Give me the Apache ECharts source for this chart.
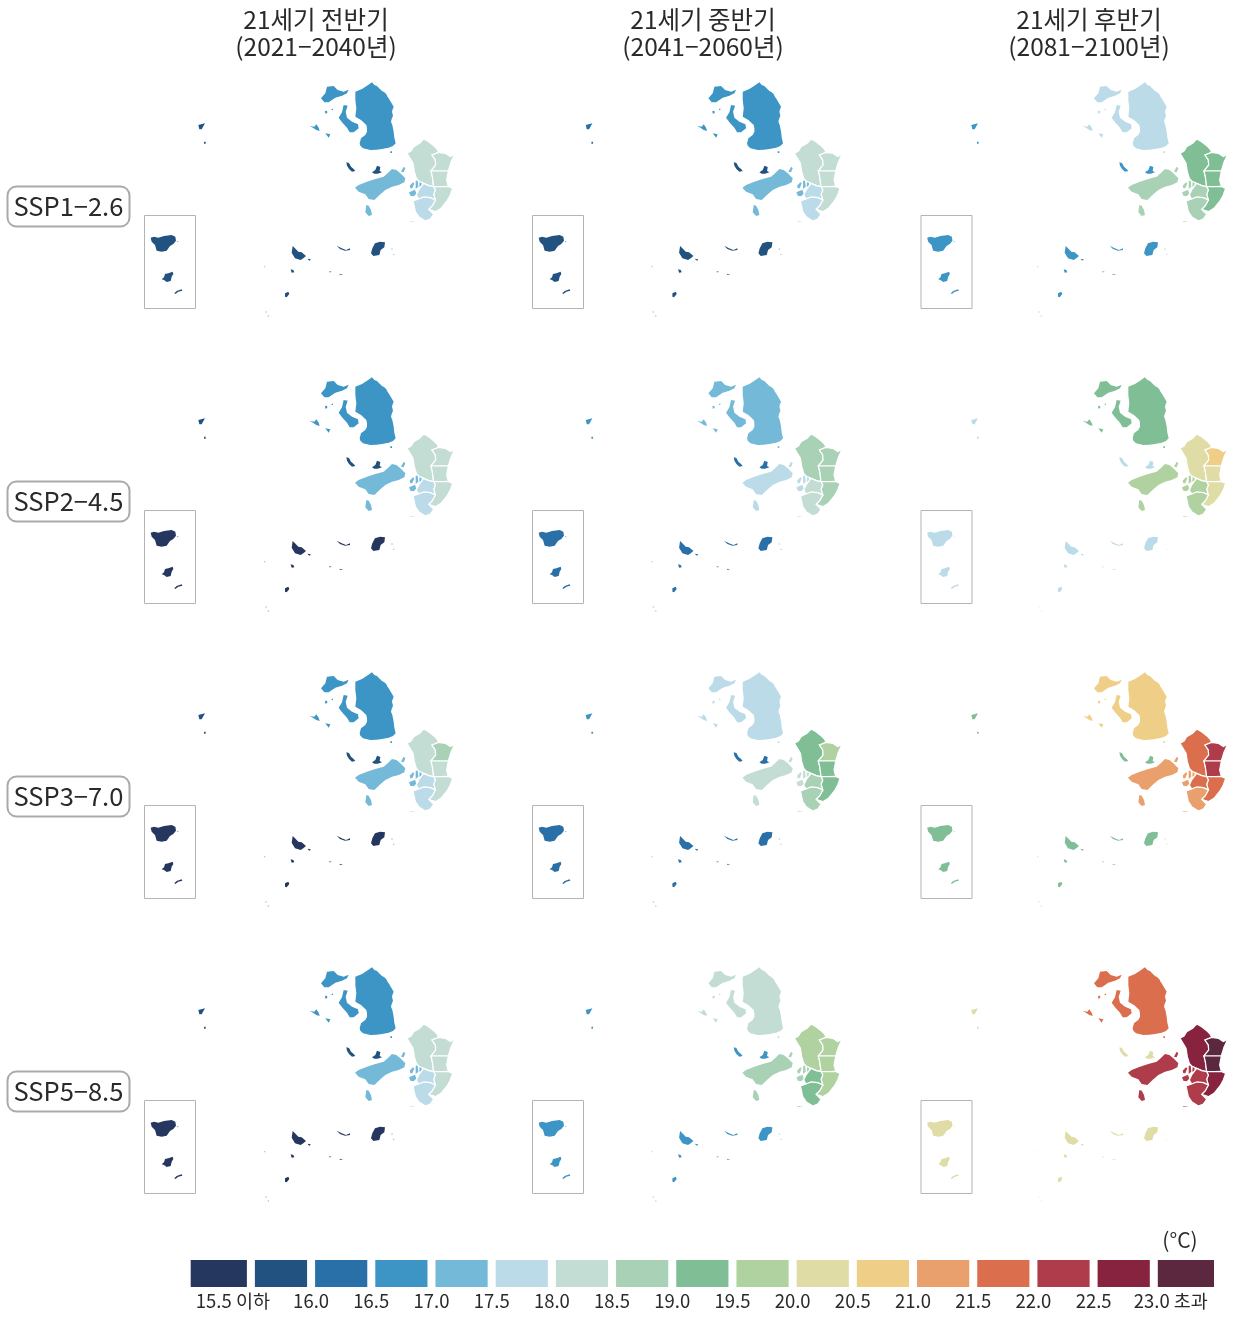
<!DOCTYPE html>
<html><head><meta charset="utf-8">
<style>html,body{margin:0;padding:0;background:#fff}#c{width:1234px;height:1318px}</style>
<script src="https://cdn.jsdelivr.net/npm/echarts@6/dist/echarts.min.js"></script>
</head><body><div id="c"></div>
<script>
// ---- text ----
const periodTitles = ['21세기 전반기\n(2021−2040년)', '21세기 중반기\n(2041−2060년)', '21세기 후반기\n(2081−2100년)'];
const scenarios = ['SSP1−2.6', 'SSP2−4.5', 'SSP3−7.0', 'SSP5−8.5'];
const unitLabel = '(°C)';

// ---- legend ----
const binColors = ['#26375f','#22527f','#2a70a8','#3c95c4','#74b9d8','#bcdbe9','#c3ddd4','#a9d1b6','#80bf96','#b0d2a0','#dfdca6','#efcf88','#e9a06c','#db6f4d','#ae3c4a','#87233f','#5b2840'];
const thresholds = [15.5,16,16.5,17,17.5,18,18.5,19,19.5,20,20.5,21,21.5,22,22.5,23];

// ---- values (°C), order: row by row, three periods per scenario ----
const ganghwa  = [16.75,16.75,17.75, 16.75,17.25,19.25, 16.75,17.75,20.75, 16.75,18.25,21.75];
const yeongjong= [17.25,17.25,18.75, 17.25,17.75,19.75, 17.25,18.25,21.25, 17.25,18.75,22.25];
const seogu    = [18.25,18.25,19.25, 18.25,18.75,20.25, 18.25,19.25,21.75, 18.25,19.75,22.75];
const gyeyang  = [18.25,18.25,19.25, 18.25,18.75,20.75, 18.75,19.75,22.25, 18.25,19.75,23.25];
const bupyeong = [18.25,18.25,19.25, 18.25,18.75,20.25, 18.25,19.25,22.25, 18.25,19.75,23.25];
const namdong  = [18.25,18.25,19.25, 18.25,18.75,20.25, 18.25,19.25,21.75, 18.25,19.75,22.75];
const michuhol = [17.75,17.75,18.75, 17.75,18.25,19.75, 17.75,18.75,21.75, 17.75,19.25,22.25];
const yeonsu   = [17.75,17.75,18.75, 17.75,18.25,19.75, 17.75,18.75,21.25, 17.75,19.25,22.25];
const straitIs = [15.75,15.75,16.75, 15.75,16.25,17.75, 15.75,16.25,19.25, 15.75,16.75,20.25];
const westIs   = [15.75,16.25,16.75, 15.75,16.75,17.75, 15.75,16.75,19.25, 15.75,16.75,20.25];
const ongjin   = [15.75,15.75,16.75, 15.25,16.25,17.75, 15.25,16.25,19.25, 15.25,16.75,20.25];
const baengnyeong = [15.75,15.75,16.75, 15.25,16.25,17.75, 15.25,16.25,19.25, 15.25,16.75,20.25];

// ---- region outlines (a: reference frame A, b: frame B) ----
const shapeGanghwa = [
 [[255,22],[262,30],[270,33],[275,38],[285,48],[292,52],[298,58],[302,66],[305,70],[312,82],[320,95],[317,103],[315,110],[318,122],[314,132],[312,140],[316,150],[318,160],[320,170],[322,188],[326,205],[318,213],[305,218],[285,222],[268,224],[250,225],[228,220],[220,212],[218,205],[222,190],[235,180],[240,170],[240,160],[238,150],[222,135],[205,125],[208,100],[205,75],[205,50],[225,42],[240,32]],
 [[170,90],[182,92],[176,110],[180,128],[195,140],[213,148],[215,160],[200,172],[188,172],[180,158],[165,142],[155,128],[165,112]],
 [[120,35],[140,33],[152,45],[170,50],[185,44],[180,55],[165,62],[145,68],[125,82],[112,82],[102,70],[115,55]],
 [[114,108],[120,107],[121,114],[115,116]],
 [[134,101],[138,101],[138,105],[134,105]],
 [[68,153],[82,155],[88,148],[95,158],[98,168],[88,165],[78,158]],
 [[115,175],[130,178],[125,188]],
 [[310,229],[315,229],[315,234],[310,234]]
];
const shapeYeongjong = [
 [[315,282],[328,285],[340,295],[355,310],[352,322],[335,330],[315,335],[295,345],[280,358],[262,375],[245,372],[235,358],[215,350],[204,338],[215,330],[240,320],[265,312],[290,305],[302,295]],
 [[350,275],[355,280],[350,292],[342,290]],
 [[238,390],[245,392],[252,405],[255,420],[245,423],[235,412]],
 [[368,332],[378,322],[382,325],[376,340],[370,340]],
 [[386,318],[392,316],[394,335],[386,342]],
 [[398,316],[405,318],[403,333],[397,335]],
 [[366,352],[384,344],[388,356],[380,364],[370,362]]
];
const shapeSeogu = [[[410,192],[425,200],[440,212],[450,222],[455,232],[435,240],[445,255],[446,270],[432,288],[436,305],[440,335],[425,332],[410,325],[395,318],[388,310],[382,290],[378,265],[360,235],[372,228],[380,215],[398,205]]];
const shapeGyeyang = [[[455,232],[475,235],[490,245],[503,238],[492,262],[484,288],[432,288],[446,270],[445,255],[435,240]]];
const shapeBupyeong = [[[432,288],[484,288],[479,315],[484,334],[462,335],[440,335],[436,305]]];
const shapeNamdong = [[[440,335],[462,335],[484,334],[497,340],[490,360],[480,378],[462,400],[445,410],[425,403],[436,392],[445,375],[440,358],[445,345]]];
const shapeMichuhol = [[[410,325],[425,332],[440,335],[445,345],[440,358],[445,375],[430,368],[410,366],[395,372],[388,360],[395,345]]];
const shapeYeonsu = [
 [[378,378],[395,372],[410,366],[430,368],[445,375],[436,392],[425,403],[440,418],[430,432],[415,438],[395,425],[385,410]],
 [[362,436],[385,436],[388,440],[370,442]]
];
const shapeStrait = [
 [[178,262],[186,264],[192,275],[200,282],[205,288],[195,290],[186,282],[180,272]],
 [[211,281],[214,281],[214,284],[211,284]],[[227,282],[230,282],[230,285],[227,285]],[[239,281],[242,281],[242,284],[239,284]],
 [[250,272],[253,272],[254,285],[251,285]],
 [[255,292],[265,285],[270,272],[280,276],[278,288],[285,292],[272,296],[262,296]]
];
const shapeWest = [
 [[175,165],[195,160],[185,178],[178,178]],
 [[192,215],[197,215],[197,221],[192,221]]
];
const shapeOngjin = [
 [[458,528],[465,535],[475,545],[485,547],[498,558],[490,565],[482,570],[465,565],[455,548]],
 [[503,566],[512,568],[510,572],[505,570]],
 [[452,598],[460,600],[463,607],[455,608]],
 [[705,520],[720,515],[735,517],[733,532],[722,540],[718,555],[700,558],[693,550],[697,535]],
 [[590,527],[605,535],[618,540],[630,535],[630,540],[615,542],[600,537]],
 [[435,670],[445,665],[448,672],[440,682],[435,680]],
 [[568,604],[576,606],[574,609],[568,607]],[[599,611],[610,615],[608,618],[599,614]]
];
const shapeSpecks = [
 [[372,588],[376,588],[376,592],[372,592]],[[376,724],[380,724],[380,728],[376,728]],[[383,736],[387,736],[387,740],[383,740]],
 [[541,596],[544,596],[544,599],[541,599]],[[754,535],[758,535],[758,539],[754,539]],[[759,551],[763,551],[763,555],[759,555]],
 [[352,680],[355,680],[355,683],[352,683]],[[370,690],[373,690],[373,693],[370,693]],[[388,686],[391,686],[391,689],[388,689]],
 [[360,700],[363,700],[363,703],[360,703]],[[210,770],[213,770],[213,773],[210,773]],[[262,783],[265,783],[265,786],[262,786]],
 [[415,160],[418,160],[418,163],[415,163]],[[570,475],[573,475],[573,478],[570,478]],[[550,505],[553,505],[553,508],[550,508]]
];
const shapeInset = [
 [[32,503],[42,500],[55,503],[72,498],[95,495],[106,500],[108,512],[100,522],[90,528],[80,542],[65,545],[50,542],[45,525],[35,515]],
 [[112,514],[116,514],[116,517],[112,517]],
 [[75,612],[85,610],[98,605],[100,612],[95,620],[92,633],[80,636],[72,630],[65,628],[72,622]],
 [[103,670],[110,663],[125,658],[127,662],[115,665],[106,672]]
];

const regions = [
 {name:'강화군', frame:'a', shape:shapeGanghwa, values:ganghwa},
 {name:'영종도', frame:'a', shape:shapeYeongjong, values:yeongjong},
 {name:'서구', frame:'a', shape:shapeSeogu, values:seogu, line:1.2},
 {name:'계양구', frame:'a', shape:shapeGyeyang, values:gyeyang, line:1.2},
 {name:'부평구', frame:'a', shape:shapeBupyeong, values:bupyeong, line:1.2},
 {name:'남동구', frame:'a', shape:shapeNamdong, values:namdong, line:1.2},
 {name:'미추홀구', frame:'a', shape:shapeMichuhol, values:michuhol, line:1.2},
 {name:'연수구', frame:'a', shape:shapeYeonsu, values:yeonsu, line:1.2},
 {name:'북도면', frame:'a', shape:shapeStrait, values:straitIs},
 {name:'서해도서', frame:'b', shape:shapeWest, values:westIs},
 {name:'옹진군', frame:'b', shape:shapeOngjin, values:ongjin},
 {name:'소도서', frame:'b', shape:shapeSpecks, values:ongjin, faint:0.3}
];
const insetRegions = [{name:'백령권역', frame:'b', shape:shapeInset, values:baengnyeong}];

// ---- layout ----
const frameOrigin = {a:[287,75], b:[140,70]};
const mapBox = {x:140, y:70, w:330, h:270};
const insetBox = {x:144, y:215, w:51, h:93};
const colOffset = [0, 387.4, 773];
const insetColOffset = [0, 388, 776.5];
const rowPitch = 295;

function toFeature(r){
  const o = frameOrigin[r.frame];
  return {type:'Feature', properties:{name:r.name}, geometry:{type:'MultiPolygon',
    coordinates:r.shape.map(p=>{
      const ring = p.map(q=>[o[0]+q[0]/3, -(o[1]+q[1]/3)]);
      ring.push(ring[0]);
      return [ring];
    })}};
}

const chart = echarts.init(document.getElementById('c'),null,{renderer:'canvas'});
const FONT = '"Noto Sans CJK KR","Noto Sans",sans-serif';
const INK = '#2a2a2a';

const series = [], titles = [], graphics = [];
periodTitles.forEach((t,c)=>{
  titles.push({text:t,left:[316,703,1089][c],top:6,textAlign:'center',padding:0,
    textStyle:{fontFamily:FONT,fontSize:24.5,fontWeight:400,color:INK,lineHeight:27}});
});
scenarios.forEach((s,r)=>{
  titles.push({text:s,left:7,top:186.5+r*rowPitch,padding:[5,6.5,5,6.5],backgroundColor:'#fff',borderColor:'#aaa',borderWidth:2,borderRadius:9,
    textStyle:{fontFamily:FONT,fontSize:25.5,fontWeight:400,color:INK,lineHeight:30}});
});
titles.push({text:unitLabel,left:1180,top:1227,textAlign:'center',padding:0,textStyle:{fontFamily:FONT,fontSize:21,fontWeight:400,color:INK,lineHeight:26}});

const mapSeriesIdx = [];
const bounds = [[mapBox.x,-mapBox.y],[mapBox.x+mapBox.w,-(mapBox.y+mapBox.h)]];
for(let r=0;r<4;r++)for(let c=0;c<3;c++){
  const k=r*3+c;
  // a map series sharing a map name would merge, so each panel registers its own
  echarts.registerMap('mainland'+k,{type:'FeatureCollection',features:regions.map(toFeature)});
  echarts.registerMap('inset'+k,{type:'FeatureCollection',features:insetRegions.map(toFeature)});
  mapSeriesIdx.push(series.length);
  series.push({type:'map',map:'mainland'+k,silent:true,aspectScale:1,roam:false,
    left:mapBox.x+colOffset[c],top:mapBox.y+r*rowPitch,width:mapBox.w,height:mapBox.h,
    boundingCoords:bounds,
    label:{show:false},emphasis:{disabled:true},select:{disabled:true},
    itemStyle:{borderWidth:0,borderColor:'#fff'},
    data:regions.map(g=>({name:g.name,value:g.values[k],itemStyle:{borderWidth:g.line||0,borderColor:'#fff',opacity:g.faint||1}}))});
  mapSeriesIdx.push(series.length);
  series.push({type:'map',map:'inset'+k,silent:true,aspectScale:1,roam:false,
    left:mapBox.x+insetColOffset[c],top:mapBox.y+r*rowPitch,width:mapBox.w,height:mapBox.h,
    boundingCoords:bounds,
    label:{show:false},emphasis:{disabled:true},select:{disabled:true},
    itemStyle:{borderWidth:0},
    data:insetRegions.map(g=>({name:g.name,value:g.values[k]}))});
  graphics.push({type:'rect',silent:true,z:0,shape:{x:insetBox.x+insetColOffset[c]+.5,y:insetBox.y+r*rowPitch+.5,width:insetBox.w,height:insetBox.h},
    style:{fill:'none',stroke:'#b4b4b4',lineWidth:1}});
}

const pieces = binColors.map((col,i)=>{
  const p={color:col};
  if(i>0)p.gt=thresholds[i-1];
  if(i<thresholds.length)p.lte=thresholds[i];
  return p;
});

const legendData = binColors.map((col,i)=>[i===0?15:thresholds[i-1], i<thresholds.length?thresholds[i]:23.5, i]);
series.push({type:'custom',xAxisIndex:0,yAxisIndex:0,silent:true,data:legendData,encode:{x:[0,1]},
  renderItem:(params,api)=>{
    const i=api.value(2), lo=api.coord([api.value(0),0]), hi=api.coord([api.value(1),1]);
    const gapL=i===0?0:4, gapR=i===binColors.length-1?0:4;
    return {type:'rect',shape:{x:lo[0]+gapL,y:hi[1],width:hi[0]-lo[0]-gapL-gapR,height:lo[1]-hi[1]},style:{fill:binColors[i]}};
  }});

chart.setOption({
  animation:false,backgroundColor:'#fff',
  textStyle:{fontFamily:FONT},
  title:titles,
  grid:{left:190.7,top:1260,width:1023.3,height:27},
  xAxis:{type:'value',min:15,max:23.5,interval:0.5,splitLine:{show:false},axisLine:{show:false},axisTick:{show:false},
    axisLabel:{margin:5,fontFamily:FONT,fontSize:18.5,fontWeight:400,color:INK,showMinLabel:false,showMaxLabel:false,hideOverlap:false,
      formatter:v=>{
        if(v===15||v===23.5)return '';
        if(v===15.5)return '{first|15.5 이하}';
        if(v===23)return '{last|23.0 초과}';
        return v.toFixed(1);
      },
      rich:{first:{fontSize:18.5,fontWeight:400,color:INK,fontFamily:FONT,padding:[0,36,0,0]},last:{fontSize:18.5,fontWeight:400,color:INK,fontFamily:FONT,padding:[0,0,0,34]}}}},
  yAxis:{type:'value',min:0,max:1,show:false},
  visualMap:{type:'piecewise',show:false,seriesIndex:mapSeriesIdx,dimension:0,pieces:pieces},
  graphic:graphics,
  series:series
});
</script></body></html>
